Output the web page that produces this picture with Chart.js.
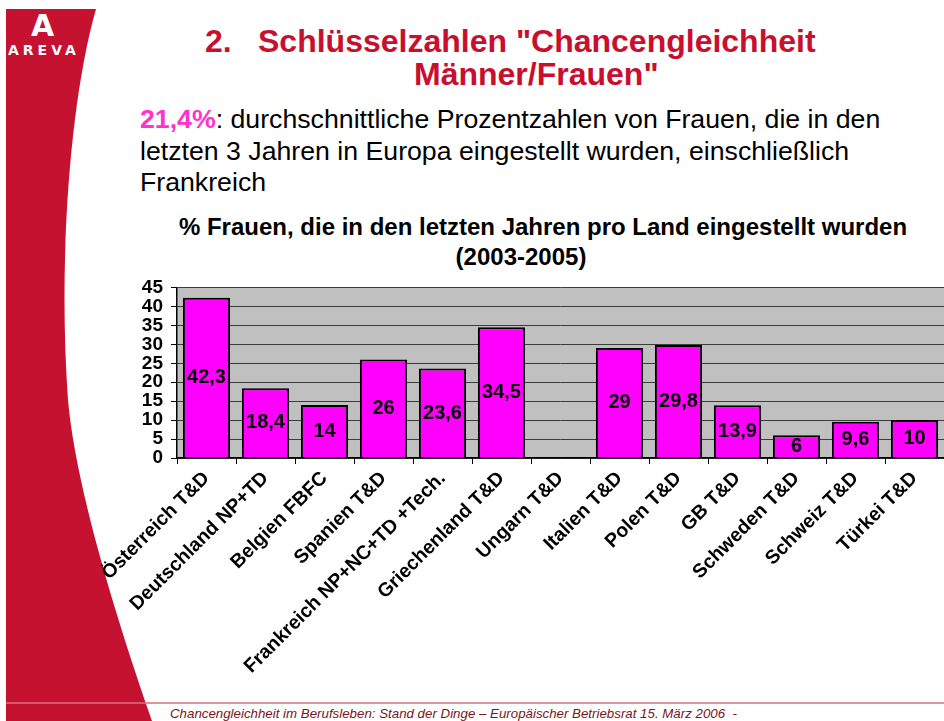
<!DOCTYPE html>
<html>
<head>
<meta charset="utf-8">
<script src="https://cdn.jsdelivr.net/npm/chart.js@4.4.1/dist/chart.umd.min.js"></script>
<style>
  body { margin: 0; width: 944px; height: 721px; overflow: hidden; background: #fff; position: relative;
         font-family: "Liberation Sans", Arial, sans-serif; }
  .abs { position: absolute; white-space: nowrap; }
  .title { color: #c8102e; font-weight: bold; font-size: 32px; line-height: 32px; }
  .sub { font-size: 26.7px; line-height: 31px; color: #000; }
  .ctitle { font-weight: bold; font-size: 24px; line-height: 30px; width: 800px; text-align: center; color: #000; }
  .foot { font-style: italic; font-size: 13.3px; line-height: 14px; color: #7a1422; }
</style>
</head>
<body>
<svg class="abs" width="944" height="721" style="left:0;top:0">
  <path d="M6 9 L96 9 C70 100 58 260 68 400 C75 480 110 600 152 721 L6 721 Z" fill="#c41230"/>
  <line x1="6" y1="703" x2="944" y2="703" stroke="#d8707e" stroke-width="1.5"/>
</svg>
<div class="abs" style="left:31px;top:8px;color:#fff;font:bold 30px 'DejaVu Sans';">A</div>
<div class="abs" style="left:8px;top:42px;color:#fff;font:bold 14px 'DejaVu Sans';letter-spacing:4px;">AREVA</div>

<div class="abs title" style="left:205px;top:25px;">2.</div>
<div class="abs title" style="left:258px;top:25px;">Schlüsselzahlen "Chancengleichheit</div>
<div class="abs title" style="left:414px;top:58px;">Männer/Frauen"</div>

<div class="abs sub" style="left:140px;top:104px;"><span style="color:#ff33cc;font-weight:bold;">21,4%</span>: durchschnittliche Prozentzahlen von Frauen, die in den</div>
<div class="abs sub" style="left:140px;top:136px;">letzten 3 Jahren in Europa eingestellt wurden, einschließlich</div>
<div class="abs sub" style="left:140px;top:167px;">Frankreich</div>

<div class="abs ctitle" style="left:143px;top:212px;">% Frauen, die in den letzten Jahren pro Land eingestellt wurden</div>
<div class="abs ctitle" style="left:121px;top:242px;">(2003-2005)</div>

<div class="abs foot" style="left:170px;top:707px;">Chancengleichheit im Berufsleben: Stand der Dinge – Europäischer Betriebsrat 15. März 2006&nbsp; -</div>

<canvas id="chart" class="abs" width="944" height="430" style="left:0;top:270px;"></canvas>

<script>
const categories = ["Österreich T&D", "Deutschland NP+TD", "Belgien FBFC", "Spanien T&D",
  "Frankreich NP+NC+TD +Tech.", "Griechenland T&D", "Ungarn T&D", "Italien T&D", "Polen T&D",
  "GB T&D", "Schweden T&D", "Schweiz T&D", "Türkei T&D"];
const womenShare = [42.3, 18.4, 14, 26, 23.6, 34.5, null, 29, 29.8, 13.9, 6, 9.6, 10];
const yMin = 0, yMax = 45, yStep = 5;

const plotBackground = {
  id: 'plotBackground',
  beforeDraw(chart) {
    const { ctx, chartArea: a } = chart;
    ctx.save();
    ctx.fillStyle = '#c0c0c0';
    ctx.fillRect(a.left, a.top, a.right - a.left, a.bottom - a.top);
    ctx.restore();
  }
};

const barLabels = {
  id: 'barLabels',
  afterDatasetsDraw(chart) {
    const ctx = chart.ctx;
    const meta = chart.getDatasetMeta(0);
    ctx.save();
    ctx.font = 'bold 20px "Liberation Sans", Arial, sans-serif';
    ctx.fillStyle = '#000';
    ctx.textAlign = 'center';
    ctx.textBaseline = 'middle';
    meta.data.forEach((bar, i) => {
      const v = womenShare[i];
      if (v === null) return;
      ctx.fillText(String(v).replace('.', ','), bar.x, (bar.y + bar.base) / 2);
    });
    ctx.restore();
  }
};

new Chart(document.getElementById('chart').getContext('2d'), {
  type: 'bar',
  data: {
    labels: categories,
    datasets: [{
      data: womenShare,
      backgroundColor: '#ff00ff',
      borderColor: '#000',
      borderWidth: 2,
      barPercentage: 0.8,
      categoryPercentage: 1.0
    }]
  },
  options: {
    responsive: false,
    animation: false,
    layout: { padding: { top: 12, right: 0, left: 0, bottom: 0 } },
    plugins: { legend: { display: false }, tooltip: { enabled: false } },
    scales: {
      y: {
        min: yMin, max: yMax,
        afterFit(scale) { scale.width = 177; },
        ticks: { stepSize: yStep, autoSkip: false, color: '#000', padding: 8,
                 font: { family: '"Liberation Sans", Arial, sans-serif', size: 19, weight: 'bold', lineHeight: 1 } },
        grid: { color: '#3c3c3c', lineWidth: 1, tickLength: 6, tickColor: '#000' },
        border: { color: '#000', width: 1.5 }
      },
      x: {
        afterFit(scale) { scale.height = 242; },
        ticks: { autoSkip: false, minRotation: 45, maxRotation: 45, color: '#000', padding: 3,
                 font: { family: '"Liberation Sans", Arial, sans-serif', size: 19.5, weight: 'bold' } },
        grid: { offset: true, drawOnChartArea: false, tickLength: 6, tickColor: '#000' },
        border: { color: '#000', width: 1.5 }
      }
    }
  },
  plugins: [plotBackground, barLabels]
});
</script>
</body>
</html>
